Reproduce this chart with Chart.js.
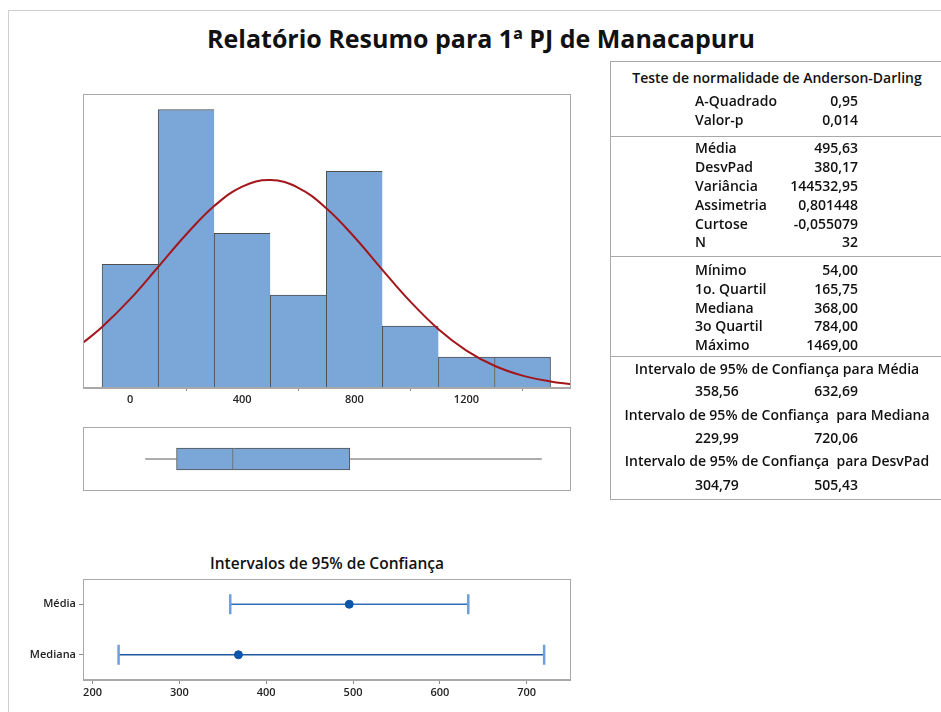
<!DOCTYPE html>
<html><head><meta charset="utf-8">
<script src="https://cdn.jsdelivr.net/npm/chart.js@4/dist/chart.umd.min.js"></script>
<style>
html,body{margin:0;padding:0;background:#fff;width:941px;height:712px;overflow:hidden;font-family:'Open Sans',sans-serif;color:#111;}
.abs{position:absolute;}
#frameTop{left:8px;top:10px;width:940px;height:0;border-top:1px solid #cfcfcf}
#frameLeft{left:8px;top:10px;width:0;height:710px;border-left:1px solid #cfcfcf}
#title{left:0;width:962px;top:21px;text-align:center;font-size:25px;font-weight:700;white-space:nowrap}
#ciTitle{left:83px;width:488px;top:552px;text-align:center;font-size:15.5px;font-weight:600;white-space:nowrap}
#tbl{left:610px;top:61px;width:340px;height:437px;border:1px solid #a8a8a8}
.sep{left:610px;width:340px;height:0;border-top:1px solid #a8a8a8}
.t{font-size:14px;font-weight:600;line-height:18px;white-space:nowrap}
.chartbox{position:absolute}
</style></head>
<body>
<div id="frameTop" class="abs"></div>
<div id="frameLeft" class="abs"></div>
<div id="title" class="abs">Relatório Resumo para 1ª PJ de Manacapuru</div>
<div id="tbl" class="abs"></div>
<div class="chartbox" style="left:83px;top:94px;width:488px;height:318px"><canvas id="hist"></canvas></div>
<div class="chartbox" style="left:83px;top:427px;width:488px;height:64px"><canvas id="box"></canvas></div>
<div id="ciTitle" class="abs">Intervalos de 95% de Confiança</div>
<div class="chartbox" style="left:0px;top:579px;width:571px;height:125px"><canvas id="ci"></canvas></div>
<script>
// ---------- data ----------
const binCenters = [0, 200, 400, 600, 800, 1000, 1200, 1400];
const binCounts  = [4, 9, 5, 3, 7, 2, 1, 1];
const histTicks  = [0, 400, 800, 1200];
const curveX = [-168, -100, 0, 100, 200, 300, 400, 500, 600, 700, 800, 900, 1000, 1100, 1200, 1300, 1400, 1500, 1573];
const curveY = [1.46, 1.97, 2.87, 3.91, 4.96, 5.88, 6.51, 6.72, 6.47, 5.81, 4.88, 3.82, 2.79, 1.90, 1.21, 0.72, 0.40, 0.21, 0.12];

const boxMin = 54, boxQ1 = 165.75, boxMed = 368, boxQ3 = 784, boxMax = 1469;

const ciRows  = ['Média', 'Mediana'];
const ciEst   = [495.63, 368.00];
const ciLow   = [358.56, 229.99];
const ciHigh  = [632.69, 720.06];
const ciTicks = [200, 300, 400, 500, 600, 700];

const adTitle  = 'Teste de normalidade de Anderson-Darling';
const adLabels = ['A-Quadrado', 'Valor-p'];
const adValues = ['0,95', '0,014'];
const descLabels = ['Média', 'DesvPad', 'Variância', 'Assimetria', 'Curtose', 'N'];
const descValues = ['495,63', '380,17', '144532,95', '0,801448', '-0,055079', '32'];
const quantLabels = ['Mínimo', '1o. Quartil', 'Mediana', '3o Quartil', 'Máximo'];
const quantValues = ['54,00', '165,75', '368,00', '784,00', '1469,00'];
const ciHeaders = ['Intervalo de 95% de Confiança para Média', 'Intervalo de 95% de Confiança  para Mediana', 'Intervalo de 95% de Confiança  para DesvPad'];
const ciTblLow  = ['358,56', '229,99', '304,79'];
const ciTblHigh = ['632,69', '720,06', '505,43'];

// ---------- table (text) ----------
function addText(txt, x, cy, align) {
  const d = document.createElement('div');
  d.className = 'abs t';
  d.textContent = txt;
  d.style.whiteSpace = 'pre';
  d.style.top = (cy - 9) + 'px';
  if (align === 'left') { d.style.left = x + 'px'; }
  else if (align === 'right') { d.style.left = (x - 300) + 'px'; d.style.width = '300px'; d.style.textAlign = 'right'; }
  else { d.style.left = (x - 200) + 'px'; d.style.width = '400px'; d.style.textAlign = 'center'; }
  document.body.appendChild(d);
}
function addSep(y) {
  const d = document.createElement('div');
  d.className = 'abs sep'; d.style.top = y + 'px';
  document.body.appendChild(d);
}
const LX = 695, RX = 858, CX = 777;
addText(adTitle, CX, 78, 'center');
const adY = [101, 120];
adLabels.forEach((l, i) => { addText(l, LX, adY[i], 'left'); addText(adValues[i], RX, adY[i], 'right'); });
addSep(136);
const descY = [148, 167, 186, 205, 224, 242];
descLabels.forEach((l, i) => { addText(l, LX, descY[i], 'left'); addText(descValues[i], RX, descY[i], 'right'); });
addSep(256);
const quantY = [270, 289, 308, 326, 345];
quantLabels.forEach((l, i) => { addText(l, LX, quantY[i], 'left'); addText(quantValues[i], RX, quantY[i], 'right'); });
addSep(356);
const hdrY = [369, 415, 461], valY = [391, 438, 485];
ciHeaders.forEach((h, i) => {
  addText(h, CX, hdrY[i], 'center');
  addText(ciTblLow[i], LX, valY[i], 'left');
  addText(ciTblHigh[i], RX, valY[i], 'right');
});

// ---------- charts ----------
Chart.defaults.font.family = "'Open Sans', sans-serif";
Chart.defaults.devicePixelRatio = 1;
const framePlugin = {
  id: 'frame',
  afterDraw(chart) {
    const a = chart.chartArea, c = chart.ctx;
    c.save(); c.strokeStyle = '#a8a8a8'; c.lineWidth = 1;
    c.strokeRect(Math.round(a.left) + 0.5, Math.round(a.top) + 0.5, Math.round(a.right - a.left) - 1, Math.round(a.bottom - a.top) - 1);
    c.restore();
  }
};
const tickFont = { size: 11, weight: '600' };
const common = {
  responsive: true, maintainAspectRatio: false, animation: false,
  layout: { padding: 0, autoPadding: false },
  plugins: { legend: { display: false }, tooltip: { enabled: false } }
};

new Chart(document.getElementById('hist'), {
  type: 'bar',
  data: { datasets: [
    { type: 'line', data: curveX.map((x, i) => ({ x, y: curveY[i] })), borderColor: '#A3161B', borderWidth: 2, pointRadius: 0, tension: 0.4, order: 0 },
    { type: 'bar', data: binCenters.map((x, i) => ({ x, y: binCounts[i] })), backgroundColor: '#7BA6D8', borderColor: '#4f4f4f',
      borderWidth: ctx => ({ top: 1, left: 1, bottom: 0, right: ctx.dataIndex === binCenters.length - 1 ? 1 : 0 }),
      borderSkipped: false, barPercentage: 1, categoryPercentage: 1, grouped: false, order: 1 }
  ]},
  options: Object.assign({}, common, {
    scales: {
      x: { type: 'linear', min: -168, max: 1573, offset: false,
        afterBuildTicks: s => { s.ticks = histTicks.map(v => ({ value: v })); },
        afterFit: s => { s.height = 24; s.paddingLeft = 0; s.paddingRight = 0; },
        grid: { display: true, drawOnChartArea: false, drawTicks: true, tickLength: 3, color: '#8a8a8a' },
        border: { color: '#a8a8a8' },
        ticks: { font: tickFont, color: '#222', padding: 2, maxRotation: 0, callback: v => String(v) } },
      y: { display: false, min: 0, max: 9.5 }
    }
  }),
  plugins: [framePlugin]
});

new Chart(document.getElementById('box'), {
  type: 'bar',
  data: { datasets: [
    { type: 'line', data: [{ x: boxMin, y: 0 }, { x: boxQ1, y: 0 }], borderColor: '#5a5a5a', borderWidth: 1, pointRadius: 0 },
    { type: 'line', data: [{ x: boxQ3, y: 0 }, { x: boxMax, y: 0 }], borderColor: '#5a5a5a', borderWidth: 1, pointRadius: 0 },
    { type: 'bar', data: [{ x: [boxQ1, boxMed], y: 0 }], backgroundColor: '#7BA6D8', borderColor: '#505050', borderWidth: 1, borderSkipped: false, barThickness: 22, grouped: false },
    { type: 'bar', data: [{ x: [boxMed, boxQ3], y: 0 }], backgroundColor: '#7BA6D8', borderColor: '#505050', borderWidth: { top: 1, bottom: 1, right: 1, left: 0 }, borderSkipped: false, barThickness: 22, grouped: false }
  ]},
  options: Object.assign({}, common, {
    indexAxis: 'y',
    scales: {
      x: { type: 'linear', display: false, min: -168, max: 1573, offset: false },
      y: { type: 'linear', display: false, min: -1, max: 1, offset: false }
    }
  }),
  plugins: [framePlugin]
});

const ciLineDs = ciRows.map((r, i) => ({
  type: 'line',
  data: [{ x: ciLow[i], y: r }, { x: ciHigh[i], y: r }],
  borderColor: i === 0 ? '#2F6FBA' : '#2358A0', borderWidth: 1.5,
  pointStyle: 'line', pointRadius: 10, pointRotation: 90,
  pointBorderColor: '#6F9FD8', pointBorderWidth: 2.5, order: 1
}));
new Chart(document.getElementById('ci'), {
  type: 'line',
  data: { datasets: [
    { type: 'line', showLine: false, data: ciRows.map((r, i) => ({ x: ciEst[i], y: r })),
      pointStyle: 'circle', pointRadius: 4, pointBackgroundColor: '#0B56A8', pointBorderColor: '#0B56A8', order: 0 },
    ...ciLineDs
  ]},
  options: Object.assign({}, common, {
    scales: {
      x: { type: 'linear', min: 189, max: 751, offset: false,
        afterBuildTicks: s => { s.ticks = ciTicks.map(v => ({ value: v })); },
        afterFit: s => { s.height = 24; s.paddingLeft = 0; s.paddingRight = 0; },
        grid: { display: true, drawOnChartArea: false, drawTicks: true, tickLength: 4, color: '#8a8a8a' },
        border: { color: '#a8a8a8' },
        ticks: { font: tickFont, color: '#222', padding: 2, maxRotation: 0 } },
      y: { type: 'category', labels: ciRows, offset: true,
        afterFit: s => { s.width = 83; s.paddingTop = 0; s.paddingBottom = 0; },
        grid: { display: true, drawOnChartArea: false, drawTicks: true, tickLength: 4, color: '#8a8a8a' },
        border: { color: '#a8a8a8' },
        ticks: { font: tickFont, color: '#222', padding: 3 } }
    }
  }),
  plugins: [framePlugin]
});
</script>
</body></html>
